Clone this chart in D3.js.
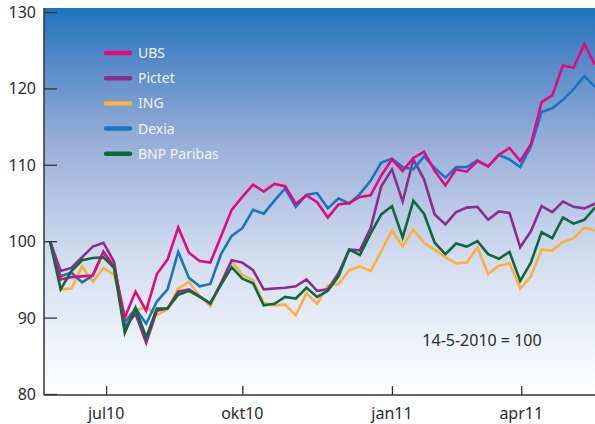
<!DOCTYPE html>
<html>
<head>
<meta charset="utf-8">
<script src="https://cdn.jsdelivr.net/npm/d3@7"></script>
<style>
  body { margin: 0; background: #fff; }
  text { font-family: "Noto Sans", "Open Sans", sans-serif; }
</style>
</head>
<body>
<div id="chart"></div>
<script>
// weekly index values, 14-5-2010 = 100
var ubs = [100, 95.0, 95.3, 95.4, 95.5, 98.6, 96.7, 90.0, 93.4, 90.9, 95.7, 97.6, 101.8,
  98.5, 97.4, 97.2, 100.6, 104.1, 105.8, 107.4, 106.5, 107.5, 107.2, 104.9, 106.0,
  105.1, 103.1, 104.8, 105.0, 105.8, 106.0, 108.6, 110.7, 109.2, 110.9, 111.7, 109.2,
  107.3, 109.4, 109.1, 110.5, 109.8, 111.3, 112.2, 110.5, 112.7, 118.2, 119.1, 123.0, 122.7, 125.8, 123.1];
var pictet = [100, 96.1, 96.5, 97.9, 99.3, 99.8, 97.3, 88.7, 90.5, 86.7, 90.9, 91.2, 93.4,
  93.7, 92.8, 91.8, 94.5, 97.5, 97.2, 96.2, 93.7, 93.8, 93.9, 94.1, 95.0,
  93.5, 93.7, 95.8, 98.9, 98.8, 101.7, 107.2, 109.4, 105.2, 110.7, 108.1, 103.5,
  102.2, 103.8, 104.4, 104.5, 102.8, 103.9, 103.7, 99.2, 101.3, 104.6, 103.8, 105.2, 104.5, 104.3, 104.9];
var ing = [100, 93.7, 93.8, 96.7, 94.7, 96.5, 95.6, 89.9, 90.9, 91.4, 90.3, 91.1, 93.8,
  94.7, 92.8, 91.5, 94.5, 97.4, 95.6, 94.9, 91.9, 91.6, 91.7, 90.3, 93.2,
  91.8, 94.2, 94.4, 96.2, 96.7, 96.1, 98.7, 101.4, 99.3, 101.5, 99.8, 98.9,
  97.9, 97.1, 97.2, 99.2, 95.7, 96.8, 97.1, 93.8, 95.4, 98.9, 98.8, 99.9, 100.4, 101.8, 101.4];
var dexia = [100, 95.4, 95.9, 94.6, 95.5, 98.6, 96.5, 89.3, 91.2, 89.2, 92.1, 93.7, 98.6,
  95.2, 94.1, 94.4, 98.3, 100.7, 101.7, 104.1, 103.6, 105.3, 106.9, 104.5, 106.1,
  106.3, 104.3, 105.6, 104.9, 106.2, 107.9, 110.3, 110.8, 109.7, 109.4, 111.1, 109.6,
  108.3, 109.7, 109.7, 110.6, 109.8, 111.3, 110.7, 109.7, 112.4, 116.9, 117.4, 118.5, 119.9, 121.6, 120.2];
var bnp = [100, 93.7, 96.1, 97.5, 97.8, 97.9, 96.5, 88.0, 91.3, 87.4, 91.2, 91.2, 93.0,
  93.5, 92.7, 91.9, 94.3, 96.6, 95.1, 94.5, 91.6, 91.8, 92.7, 92.5, 93.9,
  92.7, 93.5, 95.4, 98.9, 98.2, 101.0, 103.5, 104.6, 100.5, 105.3, 103.6, 99.8,
  98.3, 99.7, 99.3, 100.0, 98.3, 97.7, 98.6, 94.8, 97.2, 101.2, 100.4, 103.1, 102.3, 102.8, 104.4];

var seriesNames = ["UBS", "Pictet", "ING", "Dexia", "BNP Paribas"];
var seriesColors = ["#e5097f", "#8d2c8f", "#fbb040", "#1b75bc", "#10693a"];

var monthLabels = ["jul10", "okt10", "jan11", "apr11"];
var monthWeek = [5.25, 18, 32, 44.1];   // position in weeks from start

var yTicks = [80, 90, 100, 110, 120, 130];

var svgWidth = 595;
var svgHeight = 424;

var margin = { top: 8, right: 0, bottom: 29, left: 44 };

var svg = d3.select("#chart")
  .append("svg")
  .attr("width", svgWidth)
  .attr("height", svgHeight);

var defs = svg.append("defs");
var grad = defs.append("linearGradient")
  .attr("id", "bg")
  .attr("x1", 0).attr("y1", 0)
  .attr("x2", 0).attr("y2", 1);
[["0%", "#1b74bc"], ["12%", "#4f86c5"], ["35%", "#98afd9"], ["65%", "#d3ddf0"], ["100%", "#ffffff"]]
  .forEach(function(s) {
    grad.append("stop").attr("offset", s[0]).attr("stop-color", s[1]);
  });

var x = d3.scaleLinear()
  .domain([0, ubs.length - 1])
  .range([50, svgWidth]);

var y = d3.scaleLinear()
  .domain([80, 130])
  .range([394, 12]);

// plot background
svg.append("rect")
  .attr("x", margin.left)
  .attr("y", margin.top)
  .attr("width", svgWidth - margin.left)
  .attr("height", 394 - margin.top)
  .attr("fill", "url(#bg)");

var line = d3.line()
  .x(function(d, i) { return x(i); })
  .y(function(d) { return y(d); });

var allSeries = [ubs, pictet, ing, dexia, bnp];
var drawOrder = [2, 1, 3, 0, 4];

drawOrder.forEach(function(k) {
  svg.append("path")
    .datum(allSeries[k])
    .attr("fill", "none")
    .attr("stroke", seriesColors[k])
    .attr("stroke-width", 2.6)
    .attr("stroke-linejoin", "miter")
    .attr("d", line);
});

// y axis, ticks pointing inward
var leftAxis = d3.axisRight(y)
  .tickValues(yTicks)
  .tickSize(13)
  .tickFormat("");

var yAxisG = svg.append("g")
  .attr("transform", "translate(" + margin.left + ",0)")
  .call(leftAxis);
yAxisG.select(".domain").remove();
yAxisG.selectAll("line").attr("stroke", "#333").attr("stroke-width", 1.3);

svg.append("line")
  .attr("x1", margin.left).attr("x2", margin.left)
  .attr("y1", margin.top).attr("y2", 395)
  .attr("stroke", "#333")
  .attr("stroke-width", 1.5);

svg.selectAll(".ylab")
  .data(yTicks)
  .enter()
  .append("text")
  .attr("class", "ylab")
  .attr("x", 36)
  .attr("y", function(d) { return y(d) + 6; })
  .attr("text-anchor", "end")
  .attr("font-size", "16px")
  .attr("fill", "#2b2b2b")
  .text(function(d) { return d; });

// x axis
var bottomAxis = d3.axisTop(x)
  .tickValues(monthWeek)
  .tickSize(9)
  .tickFormat("");

var xAxisG = svg.append("g")
  .attr("transform", "translate(0,395)")
  .call(bottomAxis);
xAxisG.select(".domain").remove();
xAxisG.selectAll("line").attr("stroke", "#333").attr("stroke-width", 1.3);

svg.append("line")
  .attr("x1", margin.left).attr("x2", svgWidth)
  .attr("y1", 395).attr("y2", 395)
  .attr("stroke", "#333")
  .attr("stroke-width", 1.5);

svg.selectAll(".xlab")
  .data(monthLabels)
  .enter()
  .append("text")
  .attr("class", "xlab")
  .attr("x", function(d, i) { return x(monthWeek[i]); })
  .attr("y", 419)
  .attr("text-anchor", "middle")
  .attr("font-size", "16px")
  .attr("fill", "#2b2b2b")
  .text(function(d) { return d; });

// legend
var legend = svg.append("g")
  .attr("transform", "translate(106,53)");

seriesNames.forEach(function(name, i) {
  var g = legend.append("g").attr("transform", "translate(0," + (i * 25.2) + ")");
  g.append("line")
    .attr("x1", 0).attr("x2", 24)
    .attr("stroke", seriesColors[i])
    .attr("stroke-width", 4.5)
    .attr("stroke-linecap", "round");
  g.append("text")
    .attr("x", 32)
    .attr("y", 5)
    .attr("font-size", "14px")
    .attr("fill", "#eef3fa")
    .text(name);
});

svg.append("text")
  .attr("x", 482)
  .attr("y", 346)
  .attr("text-anchor", "middle")
  .attr("font-size", "16px")
  .attr("fill", "#2b2b2b")
  .text("14-5-2010 = 100");
</script>
</body>
</html>
